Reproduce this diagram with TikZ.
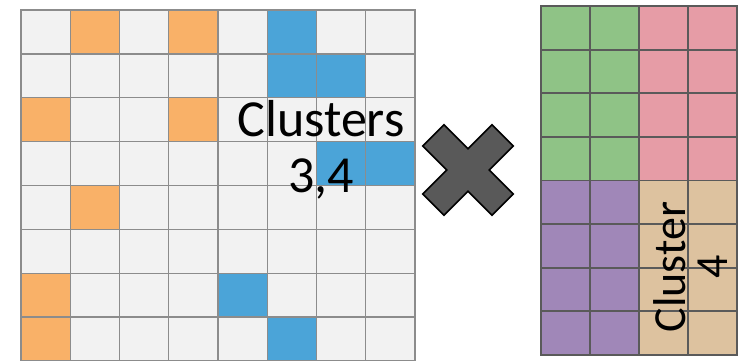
\documentclass[tikz,border=0pt]{standalone}
\usepackage{fontspec}
\setmainfont{Carlito}
\usetikzlibrary{positioning}

\definecolor{cellbg}{HTML}{F2F2F2}
\definecolor{cellline}{HTML}{8C8C8C}
\definecolor{hitorange}{HTML}{F9B168}
\definecolor{hitblue}{HTML}{4BA4D8}
\definecolor{blkline}{HTML}{5A5A5A}
\definecolor{blkgreen}{HTML}{8FC386}
\definecolor{blkpink}{HTML}{E69CA6}
\definecolor{blkpurple}{HTML}{A087B8}
\definecolor{blktan}{HTML}{DDC29F}
\definecolor{crossfill}{HTML}{595959}

\begin{document}
\begin{tikzpicture}[
  x=1pt, y=-1pt,
  cell/.style={draw=cellline, line width=1.3pt},
  blk/.style={draw=blkline, line width=1.8pt},
  crossmark/.style={draw=black, line width=1.5pt, fill=crossfill, line join=miter},
  lbl/.style={align=center, inner sep=0pt, text=black},
]
\useasboundingbox (0,0) rectangle (748,361);

% Left matrix (8x8), light background cells
\foreach \r in {0,...,7}
  \foreach \c in {0,...,7}
    \draw[cell, fill=cellbg] (21+49.25*\c, 10+43.875*\r) rectangle ++(49.25,43.875);

% orange entries
\foreach \r/\c in {0/1, 0/3, 2/0, 2/3, 4/1, 6/0, 7/0}
  \draw[cell, fill=hitorange] (21+49.25*\c, 10+43.875*\r) rectangle ++(49.25,43.875);

% blue entries
\foreach \r/\c in {0/5, 1/5, 1/6, 3/6, 3/7, 6/4, 7/5}
  \draw[cell, fill=hitblue] (21+49.25*\c, 10+43.875*\r) rectangle ++(49.25,43.875);

\node[lbl, font=\fontsize{52}{56}\selectfont] (clusters) at (321,150) {Clusters\\3,4};

% Multiplication sign
\begin{scope}[shift={(468,170)}, rotate=45]
  \draw[crossmark] (15,15) -- (49,15) -- (49,-15) -- (15,-15) -- (15,-49) -- (-15,-49)
    -- (-15,-15) -- (-49,-15) -- (-49,15) -- (-15,15) -- (-15,49) -- (15,49) -- cycle;
\end{scope}

% Right matrix (8x4), four colour blocks
\foreach \r in {0,...,3}
  \foreach \c/\col in {0/blkgreen, 1/blkgreen, 2/blkpink, 3/blkpink}
    \draw[blk, fill=\col] (541+49*\c, 6+43.625*\r) rectangle ++(49,43.625);
\foreach \r in {4,...,7}
  \foreach \c/\col in {0/blkpurple, 1/blkpurple, 2/blktan, 3/blktan}
    \draw[blk, fill=\col] (541+49*\c, 6+43.625*\r) rectangle ++(49,43.625);

\node[lbl, rotate=90, font=\fontsize{46}{42}\selectfont] (cluster4) at (691,267) {Cluster\\4};

\end{tikzpicture}
\end{document}
